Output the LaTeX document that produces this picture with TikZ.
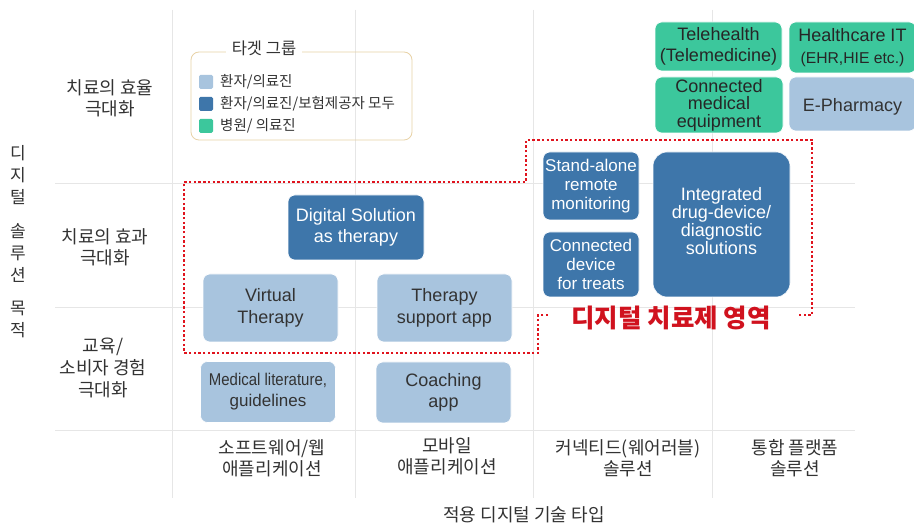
\documentclass[tikz,border=0pt]{standalone}
\usepackage{fontspec}
\usepackage{graphicx}
\setmainfont{Liberation Sans}
\newfontfamily\kr{Noto Sans CJK KR}
\definecolor{lb}{HTML}{A8C4DE}
\definecolor{db}{HTML}{3E76AA}
\definecolor{gr}{HTML}{3CC79C}
\definecolor{gridc}{HTML}{E6E6E6}
\definecolor{txt}{HTML}{333333}
\definecolor{dred}{HTML}{E0141E}
\definecolor{rtxt}{HTML}{D0121E}
\definecolor{legc}{HTML}{E8D2A6}
\tikzset{
  box/.style={rounded corners=7pt, inner sep=0pt, align=center, font=\fontsize{18}{21.5}\selectfont, draw=white, line width=0.6pt, execute at begin node={\rule{0pt}{18pt}}},
  lbox/.style={box, fill=lb, text=txt},
  dbox/.style={box, fill=db, text=white},
  gbox/.style={box, fill=gr, text=black!85},
  lab/.style={font=\kr\fontsize{18}{21}\selectfont, text=txt, align=center, inner sep=0pt},
  vlab/.style={lab, font=\kr\fontsize{17}{22}\selectfont},
  legtxt/.style={font=\kr\fontsize{14.5}{16}\selectfont, text=txt, anchor=west, inner sep=0pt},
  legsq/.style={minimum size=14pt, inner sep=0pt, rounded corners=1.5pt},
  gridline/.style={draw=gridc, line width=0.8pt},
  zone/.style={draw=dred, line width=2.7pt, dash pattern=on 2.4pt off 2.3pt}
}
\begin{document}
\begin{tikzpicture}[x=1pt,y=-1pt]
\useasboundingbox[fill=white] (0,0) rectangle (914,529);
% grid
\foreach \gx in {172,355,533,712} \draw[gridline] (\gx,10) -- (\gx,498);
\foreach \gy in {183,307,430} \draw[gridline] (55,\gy) -- (855,\gy);
% axis labels
\node[lab] (r1) at (110,98) {치료의 효율\\극대화};
\node[lab] (r2) at (105,247) {치료의 효과\\극대화};
\node[lab, font=\kr\fontsize{18}{22}\selectfont] (r3) at (103,368) {교육/\\소비자 경험\\극대화};
\node[vlab] (v1) at (18,175) {디\\지\\털};
\node[vlab] (v2) at (18,253) {솔\\루\\션};
\node[vlab] (v3) at (18,319) {목\\적};
\node[lab] (c1) at (272,458) {소프트웨어/웹\\애플리케이션};
\node[lab] (c2) at (447,456) {모바일\\애플리케이션};
\node[lab] (c3) at (628,458) {커넥티드(웨어러블)\\솔루션};
\node[lab] (c4) at (795,458) {통합 플랫폼\\솔루션};
\node[lab] (xt) at (524,515) {적용 디지털 기술 타입};
% legend
\draw[legc, rounded corners=8pt, line width=0.8pt] (191,52) rectangle (412,140);
\node[fill=white, inner xsep=6pt, inner ysep=1pt, font=\kr\fontsize{16.5}{18}\selectfont, text=txt] (legt) at (264,48) {타겟 그룹};
\node[legsq, fill=lb] (sq1) at (206,82) {};
\node[legsq, fill=db] (sq2) at (206,104) {};
\node[legsq, fill=gr] (sq3) at (206,126) {};
\node[legtxt] (l1) at (220,82) {환자/의료진};
\node[legtxt] (l2) at (220,104) {환자/의료진/보험제공자 모두};
\node[legtxt] (l3) at (220,126) {병원/ 의료진};
% red zone
\draw[zone] (548,315) -- (538,315) -- (538,353) -- (184,353) -- (184,182) -- (526,182) -- (526,140) -- (812,140) -- (812,315) -- (798,315);
\node[font=\kr\bfseries\fontsize{25.5}{27}\selectfont, text=rtxt, inner sep=0pt] (zt) at (671,318) {디지털 치료제 영역};
% boxes
\node[gbox, minimum width=127pt, minimum height=49pt] (tele) at (718.5,46.5) {Telehealth\\(Telemedicine)};
\node[gbox, minimum width=127pt, minimum height=51pt] (hit) at (852.5,47.5) {Healthcare IT\\{\fontsize{15.7}{17}\selectfont (EHR,HIE etc.)}};
\node[gbox, minimum width=128pt, minimum height=56pt, font=\fontsize{18}{17.5}\selectfont] (cme) at (719,105) {Connected\\medical\\equipment};
\node[lbox, minimum width=127pt, minimum height=54pt] (eph) at (852.5,104) {E-Pharmacy};
\node[dbox, minimum width=96pt, minimum height=68pt, font=\fontsize{17}{19}\selectfont] (sa) at (591,186) {Stand-alone\\remote\\monitoring};
\node[dbox, minimum width=96pt, minimum height=65pt, font=\fontsize{17}{19}\selectfont] (cd) at (591,264.5) {Connected\\device\\for treats};
\node[dbox, rounded corners=14pt, minimum width=137pt, minimum height=145pt, execute at begin node={}] (idd) at (721.5,224.5) {};
\node[align=center, text=white, font=\fontsize{18}{18}\selectfont, inner sep=0pt] (iddt) at (721.5,221) {Integrated\\drug-device/\\diagnostic\\solutions};
\node[dbox, minimum width=136pt, minimum height=65pt] (dsat) at (356,227.5) {Digital Solution\\as therapy};
\node[lbox, minimum width=135pt, minimum height=68pt] (vt) at (270.5,308) {Virtual\\Therapy};
\node[lbox, minimum width=135pt, minimum height=68pt] (tsa) at (444.5,308) {Therapy\\support app};
\node[lbox, minimum width=135pt, minimum height=61pt, font=\fontsize{17}{21}\selectfont] (ml) at (268,392) {\scalebox{0.88}[1]{Medical literature,}\\guidelines};
\node[lbox, minimum width=135pt, minimum height=61pt] (ca) at (443.5,392.5) {Coaching\\app};
\end{tikzpicture}
\end{document}
